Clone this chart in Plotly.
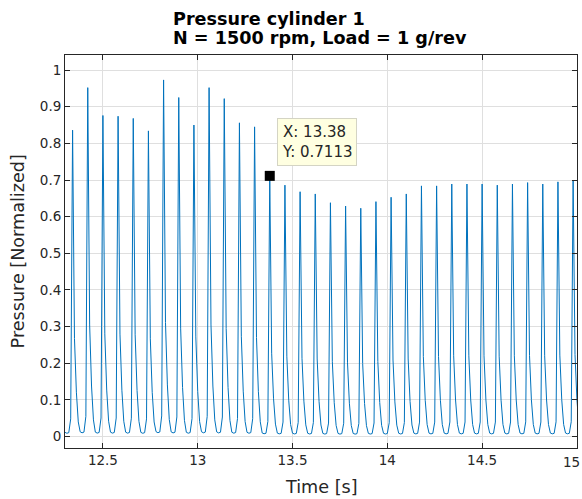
import plotly.graph_objects as go

# ---- data ----
peak_times = [12.34, 12.42, 12.50, 12.58, 12.66, 12.74, 12.82, 12.90, 12.98, 13.06,
              13.14, 13.22, 13.30, 13.38, 13.46, 13.54, 13.62, 13.70, 13.78, 13.86,
              13.94, 14.02, 14.10, 14.18, 14.26, 14.34, 14.42, 14.50, 14.58, 14.66,
              14.74, 14.82, 14.90, 14.98]
peak_values = [0.836, 0.952, 0.876, 0.874, 0.868, 0.834, 0.973, 0.925, 0.850, 0.952,
               0.922, 0.856, 0.845, 0.7113, 0.686, 0.668, 0.662, 0.638, 0.629, 0.623,
               0.641, 0.653, 0.662, 0.684, 0.684, 0.689, 0.689, 0.689, 0.686, 0.689,
               0.693, 0.689, 0.695, 0.700]
# samples of one engine cycle (0.01 s step), offsets -0.04 ... +0.03 s from the peak,
# as a fraction of that cycle's peak pressure
cycle_offsets = [-0.04, -0.03, -0.02, -0.01, 0.00, 0.01, 0.02, 0.03]
cycle_shape = [0.014, 0.011, 0.013, 0.058, 1.0, 0.32, 0.145, 0.048]

tip_x = 13.38
tip_y = 0.7113

title_lines = ["Pressure cylinder 1", "N = 1500 rpm, Load = 1 g/rev"]
x_label = "Time [s]"
y_label = "Pressure [Normalized]"
x_ticks = [12.5, 13.0, 13.5, 14.0, 14.5, 15.0]
x_tick_labels = ["12.5", "13", "13.5", "14", "14.5", "15"]
y_ticks = [0, 0.1, 0.2, 0.3, 0.4, 0.5, 0.6, 0.7, 0.8, 0.9, 1.0]
y_tick_labels = ["0", "0.1", "0.2", "0.3", "0.4", "0.5", "0.6", "0.7", "0.8", "0.9", "1"]

# ---- assemble the sampled trace ----
t, p = [], []
for pt, pv in zip(peak_times, peak_values):
    for off, fr in zip(cycle_offsets, cycle_shape):
        t.append(round(pt + off, 3))
        p.append(pv * fr)

FONT = "DejaVu Sans"
AX = "#262626"
GRID = "#dfdfdf"
TICKFONT = dict(family=FONT, size=13.5, color=AX)

fig = go.Figure()
fig.add_trace(go.Scatter(x=t, y=p, mode="lines",
                         line=dict(color="#0072BD", width=1), hoverinfo="skip",
                         showlegend=False))
fig.add_trace(go.Scatter(x=[tip_x], y=[tip_y], mode="markers",
                         marker=dict(symbol="square", size=10, color="black"),
                         showlegend=False))

axis_common = dict(ticks="inside", ticklen=5, tickwidth=1, tickcolor=AX,
                   showline=True, linecolor=AX, linewidth=1, mirror="ticks",
                   showgrid=True, gridcolor=GRID, gridwidth=1, zeroline=False,
                   automargin=False, tickfont=TICKFONT)

# the last x tick label sits at the window edge: draw it as an annotation nudged inward
fig.update_xaxes(range=[12.3, 15.0005], tickvals=x_ticks,
                 ticktext=x_tick_labels[:-1] + [""], **axis_common)
fig.update_yaxes(range=[-0.031, 1.041], tickvals=y_ticks, ticktext=y_tick_labels,
                 **axis_common)
fig.add_annotation(x=x_ticks[-1], y=0, xref="x", yref="paper", xanchor="right",
                   yanchor="top", xshift=4, yshift=-5, showarrow=False,
                   text=x_tick_labels[-1], font=TICKFONT, borderpad=0)

# axis labels
fig.add_annotation(x=0.5, y=-0.099, xref="paper", yref="paper", xanchor="center",
                   yanchor="middle", showarrow=False, text=x_label,
                   font=dict(family=FONT, size=17.6, color=AX))
fig.add_annotation(x=-0.092, y=0.5, xref="paper", yref="paper", xanchor="center",
                   yanchor="middle", showarrow=False, text=y_label, textangle=-90,
                   font=dict(family=FONT, size=17.6, color=AX))

# two-line title, lines left-aligned to each other
for line, shift in zip(title_lines, [24, 5]):
    fig.add_annotation(x=0.207, y=1, xref="paper", yref="paper", xanchor="left",
                       yanchor="bottom", yshift=shift, showarrow=False,
                       text=f"<b>{line}</b>",
                       font=dict(family=FONT, size=17.6, color="black"))

fig.add_annotation(x=tip_x, y=tip_y, xref="x", yref="y", xanchor="left",
                   yanchor="bottom", xshift=7, yshift=10, showarrow=False,
                   align="left", text=f"X: {tip_x:.2f}<br>Y: {tip_y:.4f}",
                   font=dict(family=FONT, size=15, color=AX),
                   bgcolor="#ffffe1", bordercolor="#d4d4c4", borderwidth=1,
                   borderpad=4)

fig.update_layout(width=582, height=499, autosize=False,
                  margin=dict(l=65, r=5, t=55, b=51, pad=0),
                  paper_bgcolor="white", plot_bgcolor="white",
                  font=dict(family=FONT, color=AX))

fig.write_html("out.html")
